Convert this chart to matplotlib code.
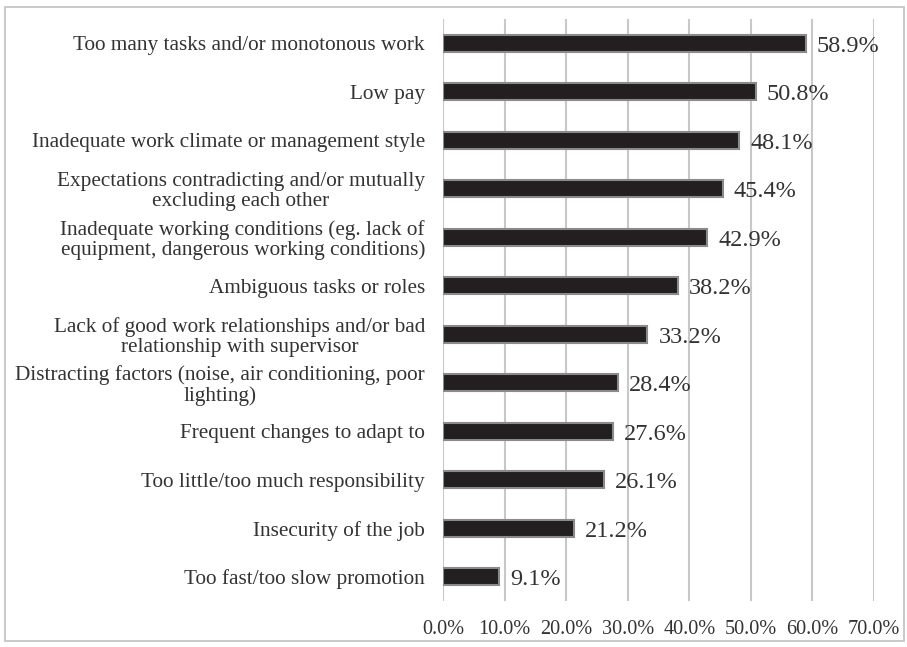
import matplotlib.pyplot as plt
from matplotlib.patches import Rectangle

causes = [
    "Too many tasks and/or monotonous work",
    "Low pay",
    "Inadequate work climate or management style",
    "Expectations contradicting and/or mutually\nexcluding each other",
    "Inadequate working conditions (eg. lack of\nequipment, dangerous working conditions)",
    "Ambiguous tasks or roles",
    "Lack of good work relationships and/or bad\nrelationship with supervisor",
    "Distracting factors (noise, air conditioning, poor\nlighting)",
    "Frequent changes to adapt to",
    "Too little/too much responsibility",
    "Insecurity of the job",
    "Too fast/too slow promotion",
]
shares = [58.9, 50.8, 48.1, 45.4, 42.9, 38.2, 33.2, 28.4, 27.6, 26.1, 21.2, 9.1]
ticks = [0, 10, 20, 30, 40, 50, 60, 70]

plt.rcParams['font.family'] = ['Liberation Serif', 'DejaVu Serif']

fig = plt.figure(figsize=(9.07, 6.47), dpi=100)
ax = fig.add_axes([443 / 907, 1 - 601 / 647, (874 - 443) / 907, (601 - 19) / 647])

pos = list(range(len(causes)))[::-1]
ax.barh(pos, shares, height=0.36, color='#231f20', edgecolor='#8a8a8a', linewidth=1.5, zorder=3)
for y, v in zip(pos, shares):
    ax.text(v + 1.8, y - 0.06, f"{v:.1f}%", va='center', ha='left', fontsize=17.5, color='#333333')

ax.set_xlim(0, 70)
ax.set_ylim(-0.5, len(causes) - 0.5)
ax.set_xticks(ticks)
ax.set_xticklabels([f"{t:.1f}%" for t in ticks], fontsize=14.6, color='#333333')
ax.set_yticks(pos)
ax.set_yticklabels(causes, fontsize=15.3, color='#333333', multialignment='center', linespacing=1.05)
ax.tick_params(length=0, pad=13, axis='y')
ax.tick_params(length=0, pad=14, axis='x')
ax.grid(axis='x', color='#c8c8c8', linewidth=1.5, zorder=0)
for s in ax.spines.values():
    s.set_visible(False)

# light frame round the whole figure
fig.patches.append(Rectangle((5 / 907, 6 / 647), 899 / 907, 634 / 647, transform=fig.transFigure,
                             fill=False, edgecolor='#c0c0c0', linewidth=1.2))

fig.savefig('out.png', dpi=100)
